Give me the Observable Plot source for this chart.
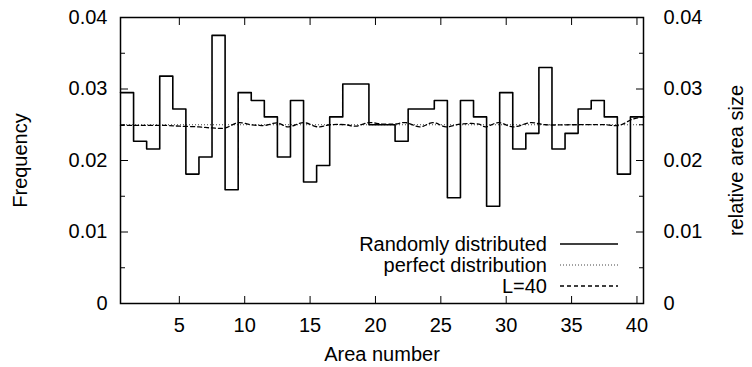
<!DOCTYPE html>
<html><head><meta charset="utf-8">
<script src="https://cdn.jsdelivr.net/npm/d3@7"></script>
<script src="https://cdn.jsdelivr.net/npm/@observablehq/plot@0.6"></script>
<style>
body{margin:0;background:#fff}
svg{font-family:"Liberation Sans",Arial,Helvetica,sans-serif}
</style>
</head><body><div id="chart"></div>
<script>
// ---- data ----
const areaNumbers = [1,2,3,4,5,6,7,8,9,10,11,12,13,14,15,16,17,18,19,20,21,22,23,24,25,26,27,28,29,30,31,32,33,34,35,36,37,38,39,40];
const randomFreq = [0.0295,0.0227,0.0216,0.0318,0.0272,0.0181,0.0205,0.0375,0.0159,0.0295,
                    0.0284,0.0261,0.0205,0.0284,0.0170,0.0193,0.0261,0.0307,0.0307,0.0250,
                    0.0250,0.0227,0.0272,0.0272,0.0284,0.0148,0.0284,0.0261,0.0136,0.0295,
                    0.0216,0.0238,0.0330,0.0216,0.0238,0.0272,0.0284,0.0261,0.0181,0.0261];
const perfectFreq = 0.025;
const l40Area = [0.5,2,4,5,6.5,7.5,8.5,9.5,10.5,11.5,12.5,13.3,14.5,15.6,16.5,17.7,18.5,19.5,20.5,21.5,22.3,23.4,24.4,25.4,26.5,27.9,28.4,29.4,30.5,31.9,33,35,37.6,38.6,39.7,40.5];
const l40Freq = [0.0249,0.0249,0.0249,0.0248,0.0247,0.02455,0.02455,0.0253,0.0250,0.0249,0.02525,0.0247,0.0253,0.0247,0.0250,0.0250,0.0248,0.0253,0.0251,0.0251,0.0253,0.0247,0.0253,0.0247,0.0251,0.0251,0.0247,0.0253,0.0247,0.0253,0.0250,0.0250,0.0250,0.0249,0.0258,0.0261];
const xTicks = [5,10,15,20,25,30,35,40];
const yTicks = [0,0.01,0.02,0.03,0.04];
const yMinorTicks = [0.005,0.015,0.025,0.035];
const legendLabels = ["Randomly distributed","perfect distribution","L=40"];
const legendDash = [null,"1,2","4,3"];

// ---- derived tables ----
const stepData = areaNumbers.map((a,i)=>({x:a-0.5, y:randomFreq[i]}));
stepData.push({x:areaNumbers[areaNumbers.length-1]+0.5, y:randomFreq[randomFreq.length-1]});
const l40Data = l40Area.map((a,i)=>({x:a, y:l40Freq[i]}));

const W = 752, H = 367, mL = 120, mR = 109, mT = 17, mB = 64;
const fmt = d => d === 0 ? "0" : d.toFixed(2);

const svg = Plot.plot({
  width: W, height: H,
  marginLeft: mL, marginRight: mR, marginTop: mT, marginBottom: mB,
  style: {fontSize: "20px", fontFamily: '"Liberation Sans",Arial,Helvetica,sans-serif', color: "#000", background: "#fff"},
  x: {domain: [0.5, 40.5]},
  y: {domain: [0, 0.04]},
  marks: [
    Plot.ruleY([perfectFreq], {stroke: "#444", strokeWidth: 1, strokeDasharray: "1,2"}),
    Plot.line(l40Data, {x: "x", y: "y", curve: "catmull-rom", stroke: "#000", strokeWidth: 1.3, strokeDasharray: "4,3"}),
    Plot.line(stepData, {x: "x", y: "y", curve: "step-after", stroke: "#000", strokeWidth: 1.6}),
    // axes (gnuplot-style inward ticks)
    Plot.axisX(xTicks, {anchor: "bottom", tickSize: -7, tickPadding: 21, tickFormat: d => String(d),
      label: "Area number", labelAnchor: "center", labelOffset: 57, labelArrow: "none"}),
    Plot.axisX(xTicks, {anchor: "top", tickSize: -7, tickFormat: () => "", label: null}),
    Plot.axisY(yTicks, {anchor: "left", tickSize: -8, tickPadding: 21, tickFormat: fmt,
      label: "Frequency", labelAnchor: "center", labelOffset: 108, labelArrow: "none"}),
    Plot.axisY(yMinorTicks, {anchor: "left", tickSize: -5, tickFormat: () => "", label: null}),
    Plot.axisY(yTicks, {anchor: "right", tickSize: -8, tickPadding: 28, tickFormat: fmt,
      label: "relative area size", labelAnchor: "center", labelOffset: 99, labelArrow: "none"}),
    Plot.axisY(yMinorTicks, {anchor: "right", tickSize: -5, tickFormat: () => "", label: null}),
    Plot.frame({stroke: "#000", strokeWidth: 1.5})
  ]
});

// ---- legend inside the frame, bottom-right ----
const g = d3.select(svg).append("g").attr("font-size", 20);
const rowY = [H - mB - 59, H - mB - 38, H - mB - 17];
const textRight = W - mR - 96, lineX1 = W - mR - 83, lineX2 = W - mR - 25;
legendLabels.forEach((lab, i) => {
  g.append("text").attr("x", textRight).attr("y", rowY[i]).attr("dy", "0.35em")
    .attr("text-anchor", "end").attr("fill", "#000").text(lab);
  const ln = g.append("line").attr("x1", lineX1).attr("x2", lineX2).attr("y1", rowY[i]).attr("y2", rowY[i])
    .attr("stroke", i === 1 ? "#444" : "#000").attr("stroke-width", i === 0 ? 1.6 : (i === 1 ? 1 : 1.3));
  if (legendDash[i]) ln.attr("stroke-dasharray", legendDash[i]);
});

document.getElementById("chart").appendChild(svg);
</script>
</body></html>
